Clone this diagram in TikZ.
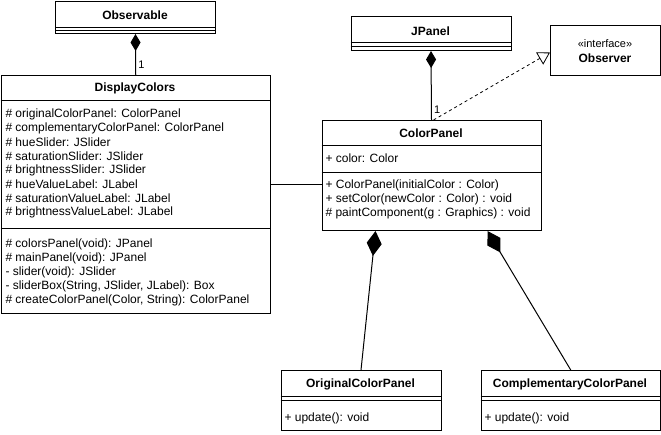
\documentclass[tikz,border=0pt]{standalone}
\usepackage{fontspec}
\setmainfont{Liberation Sans}
\usetikzlibrary{arrows.meta,calc}
\begin{document}
\begin{tikzpicture}[x=1pt,y=-1pt,line width=1pt,
  box/.style={draw,rectangle,anchor=north west,inner sep=0pt},
  txt/.style={anchor=west,inner sep=0pt,font=\fontsize{12}{14}\selectfont},
  ttl/.style={inner sep=0pt,font=\fontsize{12}{14}\selectfont\bfseries},
  small/.style={inner sep=0pt,font=\fontsize{11}{13}\selectfont},
  comp/.style={-{Diamond[fill=black,length=17pt,width=10pt]}},
  compbig/.style={-{Diamond[fill=black,length=25pt,width=15pt]}},
  real/.style={dash pattern=on 3pt off 3pt,line width=0.8pt,-{Triangle[open,length=12pt,width=14pt,line width=0.8pt]}}]
\useasboundingbox (0,0) rectangle (661,434);

% Observable
\node[box,minimum width=160pt,minimum height=32pt] (obs) at (55,1) {};
\node[ttl] (obsT) at (135,15) {Observable};
\draw ($(obs.north west)+(0,26)$) -- ($(obs.north east)+(0,26)$);
\draw ($(obs.north west)+(0,29)$) -- ($(obs.north east)+(0,29)$);

% DisplayColors
\node[box,minimum width=269.5pt,minimum height=238pt] (dc) at (0.5,75) {};
\node[ttl] (dcT) at (135,88) {DisplayColors};
\draw ($(dc.north west)+(0,25)$) -- ($(dc.north east)+(0,25)$);
\draw ($(dc.north west)+(0,153)$) -- ($(dc.north east)+(0,153)$);
\node[txt] (dc1) at (5,114) {\# originalColorPanel: ColorPanel};
\node[txt] (dc2) at (5,128) {\# complementaryColorPanel: ColorPanel};
\node[txt] (dc3) at (5,142) {\# hueSlider: JSlider};
\node[txt] (dc4) at (5,156) {\# saturationSlider: JSlider};
\node[txt] (dc5) at (5,170) {\# brightnessSlider: JSlider};
\node[txt] (dc6) at (5,184) {\# hueValueLabel: JLabel};
\node[txt] (dc7) at (5,198) {\# saturationValueLabel: JLabel};
\node[txt] (dc8) at (5,212) {\# brightnessValueLabel: JLabel};
\node[txt] (dm1) at (5,244) {\# colorsPanel(void): JPanel};
\node[txt] (dm2) at (5,258) {\# mainPanel(void): JPanel};
\node[txt] (dm3) at (5,272) {- slider(void): JSlider};
\node[txt] (dm4) at (5,286) {- sliderBox(String, JSlider, JLabel): Box};
\node[txt] (dm5) at (5,300) {\# createColorPanel(Color, String): ColorPanel};

% JPanel
\node[box,minimum width=160pt,minimum height=34pt] (jp) at (350.5,16) {};
\node[ttl] (jpT) at (430.5,31) {JPanel};
\draw ($(jp.north west)+(0,26)$) -- ($(jp.north east)+(0,26)$);
\draw ($(jp.north west)+(0,30)$) -- ($(jp.north east)+(0,30)$);

% Observer
\node[box,minimum width=110pt,minimum height=50pt] (obv) at (550,25) {};
\node[small] (obvS) at (605,44) {«interface»};
\node[ttl] (obvT) at (605,58) {Observer};

% ColorPanel
\node[box,minimum width=219pt,minimum height=110pt] (cp) at (321.5,120) {};
\node[ttl] (cpT) at (431,133) {ColorPanel};
\draw ($(cp.north west)+(0,25)$) -- ($(cp.north east)+(0,25)$);
\draw ($(cp.north west)+(0,52)$) -- ($(cp.north east)+(0,52)$);
\node[txt] (cp1) at (325,158) {+ color: Color};
\node[txt] (cm1) at (325,185) {+ ColorPanel(initialColor : Color)};
\node[txt] (cm2) at (325,199) {+ setColor(newColor : Color) : void};
\node[txt] (cm3) at (325,213) {\# paintComponent(g : Graphics) : void};

% OriginalColorPanel
\node[box,minimum width=160pt,minimum height=60pt] (ocp) at (280.5,370) {};
\node[ttl] (ocpT) at (360.5,384) {OriginalColorPanel};
\draw ($(ocp.north west)+(0,26)$) -- ($(ocp.north east)+(0,26)$);
\draw ($(ocp.north west)+(0,30)$) -- ($(ocp.north east)+(0,30)$);
\node[txt] (ocp1) at (284,418) {+ update(): void};

% ComplementaryColorPanel
\node[box,minimum width=179.5pt,minimum height=60pt] (ccp) at (480.5,370) {};
\node[ttl] (ccpT) at (570,384) {ComplementaryColorPanel};
\draw ($(ccp.north west)+(0,26)$) -- ($(ccp.north east)+(0,26)$);
\draw ($(ccp.north west)+(0,30)$) -- ($(ccp.north east)+(0,30)$);
\node[txt] (ccp1) at (484,418) {+ update(): void};

% connectors
\draw[comp] (dc.north) -- (obs.south);
\node[small,anchor=south west] (l1) at ($(dc.north)+(2,-6)$) {1};
\draw[comp] (cp.north) -- (jp.south);
\node[small,anchor=south west] (l2) at ($(cp.north)+(2,-6)$) {1};
\draw[real] ($(cp.north)+(2,0)$) -- ($(obv.west)+(0,2)$);
\coordinate (asc) at ($(cp.west)+(0,9)$);
\draw (dc.east |- asc) -- (asc);
\draw[compbig] (ocp.north) -- ($(cp.south west)+(54,0)$);
\draw[compbig] (ccp.north) -- ($(cp.south west)+(166,0)$);
\end{tikzpicture}
\end{document}
